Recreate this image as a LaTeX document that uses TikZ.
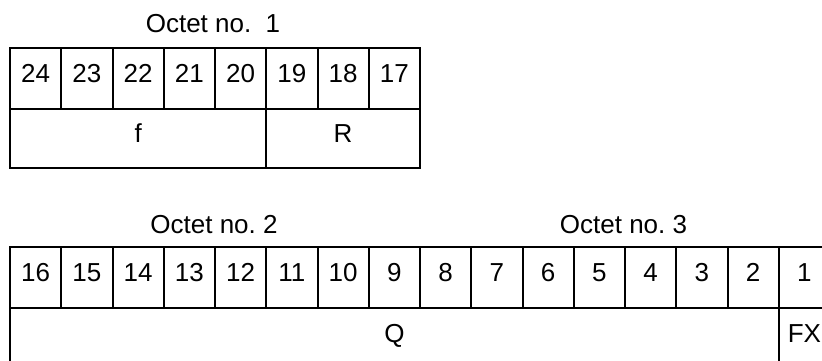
\documentclass[tikz,border=0pt]{standalone}
\usepackage{fontspec}
\setmainfont{Liberation Sans}
\begin{document}
\frenchspacing
\begin{tikzpicture}[x=1pt,y=-1pt,
  cell/.style={draw, line width=2pt, inner sep=0pt, anchor=north west,
    minimum width=51.25pt, minimum height=61pt,
    text height=18.6pt, text depth=9.6pt, font=\fontsize{26}{30}\selectfont},
  octlbl/.style={anchor=base, inner sep=0pt, font=\fontsize{26}{30}\selectfont}]
\useasboundingbox (0,0) rectangle (822,361);
\clip (0,0) rectangle (822,361);
% Octet no. 1
\node[octlbl] (o1) at (213,32.7) {Octet no.\ \ 1};
\foreach \i in {0,...,7} {
  \pgfmathtruncatemacro\n{24-\i}
  \node[cell] (c\n) at (9+\i*51.25,46.7) {\n};
}
\node[cell, minimum width=256.25pt, minimum height=58.8pt] (f) at (9,107.7) {f};
\node[cell, minimum width=153.75pt, minimum height=58.8pt] (R) at (265.25,107.7) {R};
% Octets no. 2 and 3
\node[octlbl] (o2) at (214,233.3) {Octet no.\ 2};
\node[octlbl] (o3) at (623.5,233.3) {Octet no.\ 3};
\foreach \i in {0,...,15} {
  \pgfmathtruncatemacro\n{16-\i}
  \node[cell] (d\n) at (9+\i*51.25,245.7) {\n};
}
\node[cell, minimum width=768.75pt] (Q) at (9,306.7) {Q};
\node[cell] (FX) at (777.75,306.7) {FX};
\end{tikzpicture}
\end{document}
